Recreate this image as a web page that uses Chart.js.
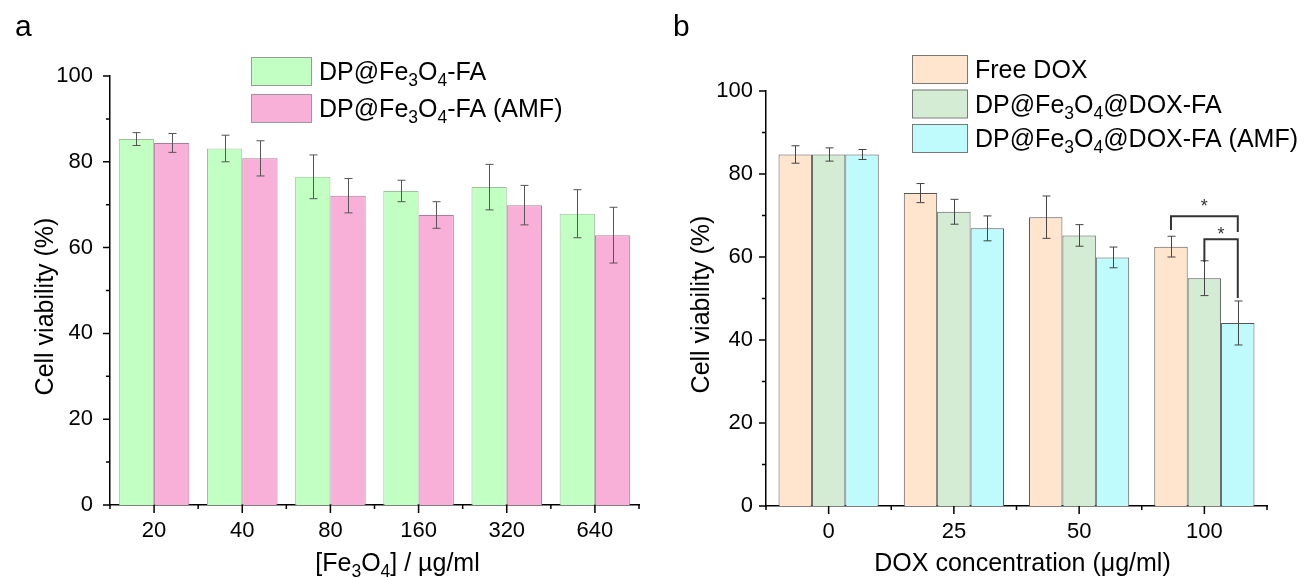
<!DOCTYPE html>
<html>
<head>
<meta charset="utf-8">
<script src="https://cdn.jsdelivr.net/npm/chart.js@4"></script>
<style>
  body { margin: 0; background: #fff; width: 1305px; height: 578px; overflow: hidden; }
  canvas { position: absolute; top: 0; }
  #chartA { left: 0; }
  #chartB { left: 652px; }
</style>
</head>
<body>
<canvas id="chartA" width="652" height="578"></canvas>
<canvas id="chartB" width="653" height="578"></canvas>
<script>
// panel a : [Fe3O4] series
var catsA = ['20', '40', '80', '160', '320', '640'];
var faA = [85.3, 83.1, 76.5, 73.2, 74.1, 67.9];
var faAerr = [1.5, 3.1, 5.1, 2.5, 5.3, 5.6];
var amfA = [84.4, 80.8, 72.1, 67.6, 69.9, 62.9];
var amfAerr = [2.2, 4.1, 4.0, 3.1, 4.6, 6.5];

// panel b : DOX series
var catsB = ['0', '25', '50', '100'];
var doxB = [84.7, 75.4, 69.6, 62.5];
var doxBerr = [2.1, 2.3, 5.1, 2.5];
var faB = [84.7, 70.9, 65.2, 54.9];
var faBerr = [1.6, 3.0, 2.6, 4.2];
var amfB = [84.7, 66.9, 59.9, 44.1];
var amfBerr = [1.2, 3.0, 2.5, 5.3];

// significance brackets (category, from dataset, to dataset, bracket top, leg ends, star level)
var sigB = [
  { cat: 3, from: 0, to: 2, top: 69.8, leftEnd: 66.5, rightEnd: 66.0, star: 73.0 },
  { cat: 3, from: 1, to: 2, top: 64.3, leftEnd: 58.8, rightEnd: 50.1, star: 66.2 }
];

var FAMILY = '"Liberation Sans", Arial, sans-serif';

function richText(ctx, str, x, y, size, align) { // "_3" -> subscript 3
  var parts = str.split(/(_\d)/).filter(function (s) { return s.length; });
  var w = 0;
  parts.forEach(function (p) {
    var sub = p[0] == '_';
    ctx.font = (sub ? size * 0.7 : size) + 'px ' + FAMILY;
    w += ctx.measureText(sub ? p.slice(1) : p).width;
  });
  var cx = align == 'center' ? x - w / 2 : x;
  ctx.textAlign = 'left';
  ctx.textBaseline = 'alphabetic';
  parts.forEach(function (p) {
    var sub = p[0] == '_';
    var t = sub ? p.slice(1) : p;
    ctx.font = (sub ? size * 0.7 : size) + 'px ' + FAMILY;
    ctx.fillText(t, cx, y + (sub ? size * 0.25 : 0));
    cx += ctx.measureText(t).width;
  });
}

var decor = {
  id: 'decor',
  afterDatasetsDraw: function (chart, args, o) {
    var ctx = chart.ctx, ys = chart.scales.y;
    ctx.save();
    ctx.strokeStyle = o.errColor;
    ctx.lineWidth = 1;
    chart.data.datasets.forEach(function (ds, i) {
      chart.getDatasetMeta(i).data.forEach(function (bar, j) {
        var x = Math.round(bar.x) + 0.5;
        var yt = ys.getPixelForValue(ds.data[j] + ds.err[j]);
        var yb = ys.getPixelForValue(ds.data[j] - ds.err[j]);
        ctx.beginPath();
        ctx.moveTo(x, yt); ctx.lineTo(x, yb);
        ctx.moveTo(x - o.cap, yt); ctx.lineTo(x + o.cap, yt);
        ctx.moveTo(x - o.cap, yb); ctx.lineTo(x + o.cap, yb);
        ctx.stroke();
      });
    });
    // significance brackets
    (o.sig || []).forEach(function (s) {
      var x1 = chart.getDatasetMeta(s.from).data[s.cat].x;
      var x2 = chart.getDatasetMeta(s.to).data[s.cat].x;
      ctx.strokeStyle = '#333';
      ctx.lineWidth = 2;
      ctx.beginPath();
      ctx.moveTo(x1, ys.getPixelForValue(s.leftEnd));
      ctx.lineTo(x1, ys.getPixelForValue(s.top));
      ctx.lineTo(x2, ys.getPixelForValue(s.top));
      ctx.lineTo(x2, ys.getPixelForValue(s.rightEnd));
      ctx.stroke();
      ctx.fillStyle = '#333';
      ctx.font = '18px ' + FAMILY;
      ctx.textAlign = 'center';
      ctx.textBaseline = 'middle';
      ctx.fillText('*', (x1 + x2) / 2, ys.getPixelForValue(s.star) + 4);
    });
    ctx.restore();
  },
  afterDraw: function (chart, args, o) {
    var ctx = chart.ctx, xs = chart.scales.x, ys = chart.scales.y, a = chart.chartArea;
    ctx.save();
    ctx.strokeStyle = '#000';
    ctx.lineWidth = 1.5;
    ctx.beginPath();
    // y ticks: labelled every 20, minor every 10
    ys.ticks.forEach(function (t) {
      var y = ys.getPixelForValue(t.value);
      ctx.moveTo(a.left, y);
      ctx.lineTo(a.left - (t.value % 20 === 0 ? 7 : 4), y);
    });
    // x ticks: major at categories, minor at boundaries
    var n = chart.data.labels.length, w = (a.right - a.left) / n;
    for (var i = 0; i < n; i++) {
      var cx = xs.getPixelForValue(i);
      ctx.moveTo(cx, a.bottom); ctx.lineTo(cx, a.bottom + 8);
    }
    for (var k = 0; k <= n; k++) {
      var bx = a.left + k * w;
      ctx.moveTo(bx, a.bottom); ctx.lineTo(bx, a.bottom + 4);
    }
    ctx.stroke();

    ctx.fillStyle = '#000';
    // panel letter
    ctx.font = '30px ' + FAMILY;
    ctx.textAlign = 'left';
    ctx.textBaseline = 'alphabetic';
    ctx.fillText(o.letter, o.letterX, 36);
    // axis titles
    richText(ctx, o.xTitle, (a.left + a.right) / 2 + o.xTitleDX, 571, 25, 'center');
    ctx.save();
    ctx.translate(o.yTitleX, (a.top + a.bottom) / 2 + o.yTitleDY);
    ctx.rotate(-Math.PI / 2);
    richText(ctx, o.yTitle, 0, 9, 25, 'center');
    ctx.restore();
    // legend
    var L = o.legend;
    chart.data.datasets.forEach(function (ds, i) {
      var by = L.y + i * L.pitch;
      ctx.fillStyle = ds.backgroundColor;
      ctx.fillRect(L.x, by, L.w, L.h);
      ctx.strokeStyle = L.border;
      ctx.lineWidth = 1;
      ctx.strokeRect(L.x + 0.5, by + 0.5, L.w, L.h);
      ctx.fillStyle = '#000';
      richText(ctx, ds.label, L.x + L.w + 8, by + L.h / 2 + 9, 25, 'left');
    });
    ctx.restore();
  }
};

function makeOptions(pad, yWidth, xHeight, yPad, deco) {
  return {
    responsive: false,
    animation: false,
    layout: { padding: pad },
    plugins: { legend: { display: false }, tooltip: { enabled: false }, decor: deco },
    scales: {
      x: {
        grid: { display: false, drawTicks: false },
        border: { color: '#000', width: 1.5 },
        ticks: { color: '#000', font: { size: 22, family: FAMILY }, padding: 13 },
        afterFit: function (s) { s.height = xHeight; }
      },
      y: {
        min: 0, max: 100,
        grid: { display: false, drawTicks: false },
        border: { color: '#000', width: 1.5 },
        ticks: {
          stepSize: 10, autoSkip: false, color: '#000', padding: yPad,
          font: { size: 22, family: FAMILY },
          callback: function (v) { return v % 20 === 0 ? v : ''; }
        },
        afterFit: function (s) { s.width = yWidth; }
      }
    }
  };
}

var chartA = new Chart(document.getElementById('chartA'), {
  type: 'bar',
  data: {
    labels: catsA,
    datasets: [
      { label: 'DP@Fe_3O_4-FA', data: faA, err: faAerr, backgroundColor: '#C2FFC2',
        borderColor: '#9fbf9f', borderWidth: 1, categoryPercentage: 0.8, barPercentage: 1.0 },
      { label: 'DP@Fe_3O_4-FA (AMF)', data: amfA, err: amfAerr, backgroundColor: '#F9B0D8',
        borderColor: '#b07a98', borderWidth: 1, categoryPercentage: 0.8, barPercentage: 1.0 }
    ]
  },
  options: makeOptions({ top: 76, right: 13, left: 0, bottom: 0 }, 110, 73, 17, {
    letter: 'a', letterX: 15, xTitle: '[Fe_3O_4] / µg/ml', xTitleDX: 23,
    yTitle: 'Cell viability (%)', yTitleX: 44, yTitleDY: 16, errColor: '#555', cap: 4,
    legend: { x: 251, y: 57, w: 60, h: 28, pitch: 37, border: '#999' }
  }),
  plugins: [decor]
});

var chartB = new Chart(document.getElementById('chartB'), {
  type: 'bar',
  data: {
    labels: catsB,
    datasets: [
      { label: 'Free DOX', data: doxB, err: doxBerr, backgroundColor: '#FFE4CE',
        borderColor: '#555', borderWidth: 1, categoryPercentage: 0.8, barPercentage: 1.0 },
      { label: 'DP@Fe_3O_4@DOX-FA', data: faB, err: faBerr, backgroundColor: '#D3ECD3',
        borderColor: '#555', borderWidth: 1, categoryPercentage: 0.8, barPercentage: 1.0 },
      { label: 'DP@Fe_3O_4@DOX-FA (AMF)', data: amfB, err: amfBerr, backgroundColor: '#BFFBFD',
        borderColor: '#555', borderWidth: 1, categoryPercentage: 0.8, barPercentage: 1.0 }
    ]
  },
  options: makeOptions({ top: 91, right: 38, left: 0, bottom: 0 }, 114, 72, 13, {
    letter: 'b', letterX: 21, xTitle: 'DOX concentration (μg/ml)', xTitleDX: 6,
    yTitle: 'Cell viability (%)', yTitleX: 48, yTitleDY: 6, errColor: '#444', cap: 4,
    legend: { x: 260, y: 55, w: 55, h: 28, pitch: 34.5, border: '#777' },
    sig: sigB
  }),
  plugins: [decor]
});
</script>
</body>
</html>
